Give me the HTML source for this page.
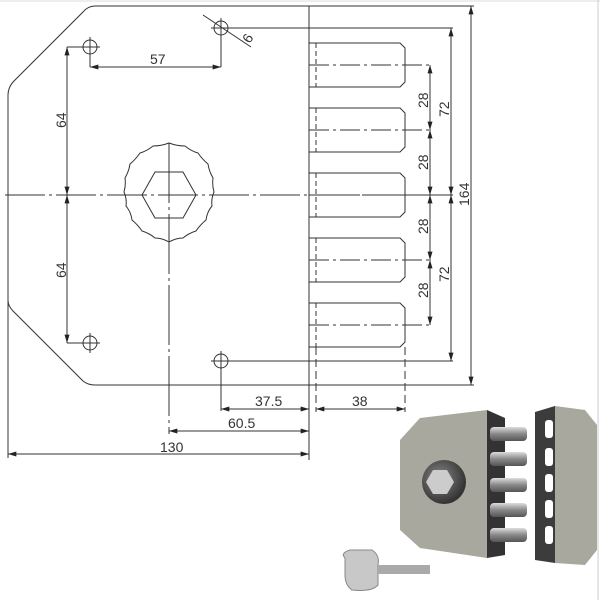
<!DOCTYPE html>
<html><head><meta charset="utf-8"><style>
html,body{margin:0;padding:0;background:#fff;}
svg{display:block;}
text{font-family:"Liberation Sans",sans-serif;font-size:14px;fill:#333;}
</style></head><body>
<svg width="600" height="600" viewBox="0 0 600 600" xmlns="http://www.w3.org/2000/svg">
<defs>
<marker id="a" viewBox="0 0 10 6" refX="10" refY="3" markerWidth="10" markerHeight="5" orient="auto-start-reverse"><path d="M0,0L10,3L0,6z" fill="#222"/></marker>
<linearGradient id="bolt" x1="0" y1="0" x2="0" y2="1"><stop offset="0" stop-color="#ddd"/><stop offset="0.5" stop-color="#888"/><stop offset="1" stop-color="#555"/></linearGradient>
<radialGradient id="knob" cx="0.4" cy="0.4" r="0.6"><stop offset="0" stop-color="#888"/><stop offset="1" stop-color="#333"/></radialGradient>
</defs>
<line x1="0" y1="1" x2="600" y2="1" stroke="#ddd"/>
<line x1="598" y1="0" x2="598" y2="600" stroke="#ccc"/>
<g fill="none" stroke="#333" stroke-width="1">
<!-- plate -->
<path d="M309,6 L95,6 Q88,6 83,12 L13,82 Q8,88 8,95 L8,300 Q8,306 13,311 L82,380 Q87,385 95,385 L309,385"/>
<line x1="309" y1="6" x2="309" y2="460"/>
<line x1="309" y1="6" x2="474" y2="6"/>
<line x1="309" y1="385" x2="474" y2="385"/>
<!-- center line -->
<line x1="5" y1="195" x2="455" y2="195" stroke-dasharray="40,4,3,4"/>
<line x1="169" y1="143" x2="169" y2="434" stroke-dasharray="60,4,3,4"/>
<!-- knob -->
<path d="M169,143 Q177,146 185,146 Q191,151 198,153 Q202,159 208,164 Q209,171 213,178 Q212,185 214,192 Q211,199 212,206 Q207,212 206,220 Q200,225 196,231 Q189,233 183,238 Q176,238 169,242 Q162,238 155,238 Q149,233 142,231 Q138,225 132,220 Q131,212 126,206 Q127,199 124,192 Q126,185 125,178 Q129,171 130,164 Q136,159 140,153 Q147,151 153,146 Q161,146 169,143Z"/>
<polygon points="142,195 155,172 183,172 196,195 183,218 155,218"/>
<!-- holes -->
<circle cx="90" cy="47" r="7"/><circle cx="221" cy="28" r="7"/><circle cx="90" cy="343" r="7"/><circle cx="221" cy="361" r="7"/>
<line x1="80" y1="47" x2="100" y2="47"/><line x1="90" y1="37" x2="90" y2="67"/>
<line x1="211" y1="28" x2="453" y2="28"/><line x1="221" y1="18" x2="221" y2="67"/>
<line x1="80" y1="343" x2="100" y2="343"/><line x1="90" y1="333" x2="90" y2="353"/>
<line x1="211" y1="361" x2="453" y2="361"/><line x1="221" y1="351" x2="221" y2="411"/>
<!-- Ø6 -->
<line x1="203" y1="15" x2="251" y2="47"/>
<!-- 57 -->
<line x1="90" y1="67" x2="221" y2="67" marker-start="url(#a)" marker-end="url(#a)"/>
<!-- 64 -->
<line x1="67" y1="47" x2="90" y2="47"/><line x1="67" y1="343" x2="90" y2="343"/>
<line x1="67" y1="47" x2="67" y2="195" marker-start="url(#a)" marker-end="url(#a)"/>
<line x1="67" y1="195" x2="67" y2="343" marker-start="url(#a)" marker-end="url(#a)"/>
<!-- bolts -->
<g id="b">
<path d="M309,43 L400,43 L405,48 L405,82 L400,87 L309,87"/>
<line x1="316" y1="43" x2="316" y2="87" stroke-dasharray="5,3"/>
<line x1="309" y1="65" x2="432" y2="65" stroke-dasharray="20,4,3,4"/>
</g>
<use href="#b" y="65"/><use href="#b" y="130"/><use href="#b" y="195"/><use href="#b" y="260"/>
<line x1="316" y1="347" x2="316" y2="412" stroke-dasharray="8,4"/>
<line x1="405" y1="347" x2="405" y2="412" stroke-dasharray="8,4"/>
<!-- 28 dims -->
<line x1="430" y1="65" x2="430" y2="130" marker-start="url(#a)" marker-end="url(#a)"/>
<line x1="430" y1="130" x2="430" y2="195" marker-start="url(#a)" marker-end="url(#a)"/>
<line x1="430" y1="195" x2="430" y2="260" marker-start="url(#a)" marker-end="url(#a)"/>
<line x1="430" y1="260" x2="430" y2="325" marker-start="url(#a)" marker-end="url(#a)"/>
<line x1="451" y1="28" x2="451" y2="195" marker-start="url(#a)" marker-end="url(#a)"/>
<line x1="451" y1="195" x2="451" y2="361" marker-start="url(#a)" marker-end="url(#a)"/>
<line x1="471" y1="6" x2="471" y2="385" marker-start="url(#a)" marker-end="url(#a)"/>
<!-- bottom dims -->
<line x1="221" y1="409" x2="309" y2="409" marker-start="url(#a)" marker-end="url(#a)"/>
<line x1="316" y1="409" x2="405" y2="409" marker-start="url(#a)" marker-end="url(#a)"/>
<line x1="169" y1="431" x2="309" y2="431" marker-start="url(#a)" marker-end="url(#a)"/>
<line x1="8" y1="300" x2="8" y2="458"/>
<line x1="8" y1="454" x2="309" y2="454" marker-start="url(#a)" marker-end="url(#a)"/>
</g>
<text x="150" y="64">57</text>
<text transform="translate(66,128) rotate(-90)">64</text>
<text transform="translate(66,278) rotate(-90)">64</text>
<text transform="translate(250,44) rotate(-60)">6</text>
<g>
<text transform="translate(428,108) rotate(-90)">28</text>
<text transform="translate(428,170) rotate(-90)">28</text>
<text transform="translate(428,234) rotate(-90)">28</text>
<text transform="translate(428,298) rotate(-90)">28</text>
<text transform="translate(449,117) rotate(-90)">72</text>
<text transform="translate(449,282) rotate(-90)">72</text>
<text transform="translate(469,206) rotate(-90)">164</text>
</g>
<text x="255" y="406">37.5</text>
<text x="352" y="406">38</text>
<text x="228" y="428">60.5</text>
<text x="160" y="452">130</text>
<!-- photo -->
<polygon points="487,410 505,418 505,555 487,558" fill="#333"/>
<polygon points="400,440 420,418 487,410 487,558 420,548 400,530" fill="#a9a89f"/>
<g fill="url(#bolt)">
<rect x="490" y="427" width="37" height="14" rx="4"/>
<rect x="490" y="452" width="37" height="14" rx="4"/>
<rect x="490" y="478" width="37" height="14" rx="4"/>
<rect x="490" y="503" width="37" height="14" rx="4"/>
<rect x="490" y="528" width="37" height="14" rx="4"/>
</g>
<polygon points="535,412 555,406 555,563 535,560" fill="#3c3c3c"/>
<polygon points="555,406 585,410 597,425 597,550 585,565 555,563" fill="#a9a89f"/>
<g fill="#fff"><rect x="545" y="420" width="8" height="18" rx="3"/><rect x="545" y="448" width="8" height="18" rx="3"/><rect x="545" y="474" width="8" height="18" rx="3"/><rect x="545" y="500" width="8" height="18" rx="3"/><rect x="545" y="526" width="8" height="18" rx="3"/></g>
<circle cx="444" cy="482" r="22" fill="url(#knob)"/>
<polygon points="426,482 433,470 447,470 454,482 447,494 433,494" fill="#ccc"/>
<path d="M345,558 Q340,553 350,550 L372,550 Q380,555 378,565 L378,585 Q372,592 352,590 Q345,585 345,575Z" fill="#c8c8c8" stroke="#888"/>
<rect x="378" y="565" width="52" height="9" fill="#aaa"/>
</svg>
</body></html>
